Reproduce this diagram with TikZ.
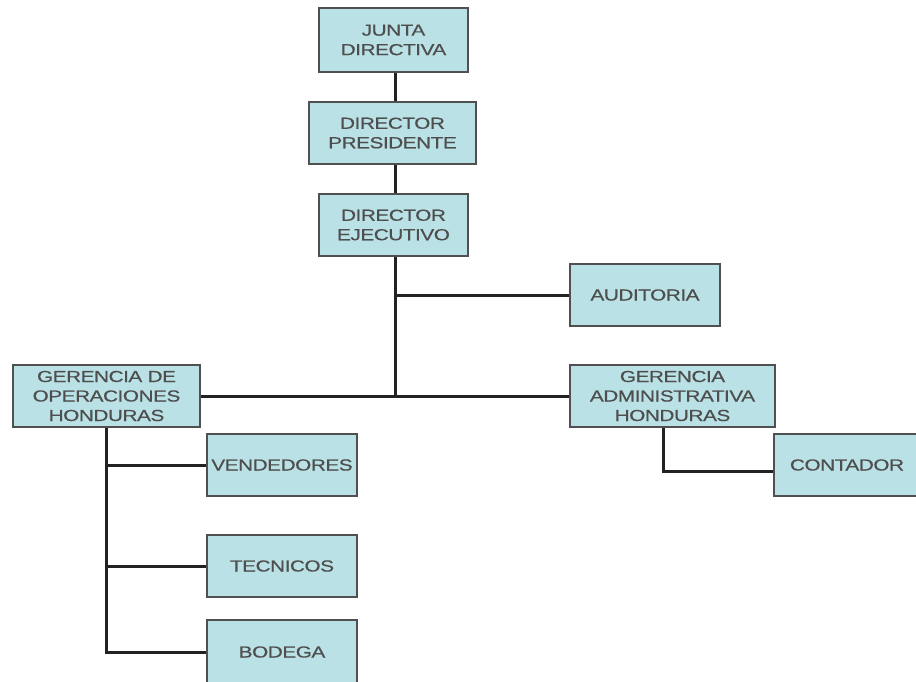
\documentclass[tikz,border=0pt]{standalone}
\usepackage{fontspec}
\newfontfamily\boxfont[FakeStretch=1.3, LetterSpace=-3, FakeBold=0.4]{Liberation Sans}
\definecolor{boxfill}{RGB}{186,225,229}
\definecolor{boxline}{RGB}{80,80,80}
\definecolor{boxtext}{RGB}{78,78,78}
\definecolor{linkcol}{RGB}{34,34,34}
\tikzset{
  orgbox/.style={draw=boxline, fill=boxfill, line width=1.6pt, inner sep=0pt,
    align=center, text=boxtext,
    font=\boxfont\fontsize{16}{19.5}\selectfont},
  link/.style={draw=linkcol, line width=3pt}
}
\begin{document}
\begin{tikzpicture}[x=1pt,y=-1pt]
  \useasboundingbox (0,0) rectangle (916,681);
  \fill[white] (0,0) rectangle (916,681);

  % top of the hierarchy
  \node[orgbox, minimum width=149pt, minimum height=64pt] (junta) at (393.5,40) {JUNTA\\DIRECTIVA};
  \node[orgbox, minimum width=167pt, minimum height=62pt] (pres) at (392.5,133) {DIRECTOR\\PRESIDENTE};
  \node[orgbox, minimum width=149pt, minimum height=62pt] (ejec) at (393.5,225) {DIRECTOR\\EJECUTIVO};

  % staff and management level
  \node[orgbox, minimum width=150pt, minimum height=62pt] (aud) at (645,295) {AUDITORIA};
  \node[orgbox, minimum width=187pt, minimum height=62pt] (gops) at (106.5,396) {GERENCIA DE\\OPERACIONES\\HONDURAS};
  \node[orgbox, minimum width=205pt, minimum height=62pt] (gadm) at (672.5,396) {GERENCIA\\ADMINISTRATIVA\\HONDURAS};

  % operational units
  \node[orgbox, minimum width=146pt, minimum height=62pt] (cont) at (847,465) {CONTADOR};
  \node[orgbox, minimum width=150pt, minimum height=62pt] (vend) at (282,465) {VENDEDORES};
  \node[orgbox, minimum width=150pt, minimum height=62pt] (tec) at (282,566) {TECNICOS};
  \node[orgbox, minimum width=150pt, minimum height=64pt] (bod) at (282,652) {BODEGA};

  % reporting lines
  \coordinate (trunk) at ([xshift=1.5pt]ejec.south);
  \draw[link] (trunk |- junta.south) -- (trunk |- pres.north);
  \draw[link] (trunk |- pres.south) -- (trunk |- ejec.north);
  \draw[link] (trunk) -- (trunk |- gops.east);
  \draw[link] (trunk |- aud.west) -- (aud.west);
  \draw[link] (gops.east) -- (gops.east -| gadm.west);

  \draw[link] (gops.south) -- (gops.south |- bod.west) -- (bod.west);
  \draw[link] (gops.south |- vend.west) -- (vend.west);
  \draw[link] (gops.south |- tec.west) -- (tec.west);

  \draw[link] ([xshift=-9.5pt]gadm.south) |- ([yshift=-6pt]cont.west);
\end{tikzpicture}
\end{document}
